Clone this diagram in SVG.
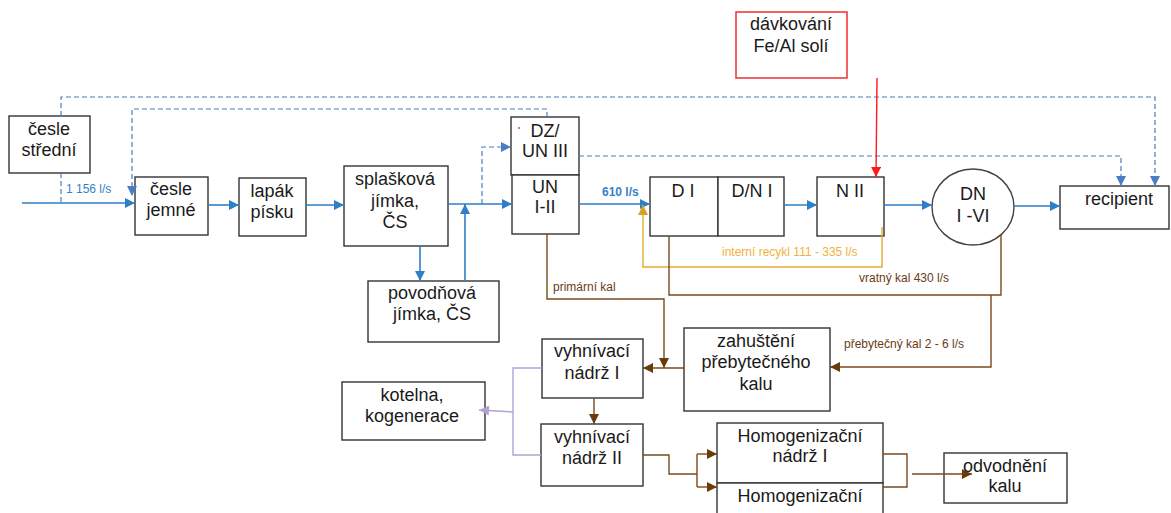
<svg xmlns="http://www.w3.org/2000/svg" width="1171" height="513" viewBox="0 0 1171 513">
<style>
.box{fill:#fff;stroke:#333;stroke-width:1.4}
.t{font-family:"Liberation Sans",Arial,sans-serif;font-size:18px;fill:#1a1a1a;text-anchor:middle}
.s{font-family:"Liberation Sans",Arial,sans-serif;font-size:12px}
.bl{fill:none;stroke:#2e7ec8;stroke-width:1.6}
.bd{fill:none;stroke:#4a7ec4;stroke-width:1.2;stroke-dasharray:5,3}
.br{fill:none;stroke:#7a4a1e;stroke-width:1.4}
.or{fill:none;stroke:#e2ab2c;stroke-width:1.4}
.lv{fill:none;stroke:#b3a3d3;stroke-width:1.4}
.rd{fill:none;stroke:#ff1a1a;stroke-width:1.4}
</style>
<defs>
<marker id="mb" viewBox="0 0 10 10" refX="10" refY="5" markerWidth="12" markerHeight="10" markerUnits="userSpaceOnUse" orient="auto"><path d="M0,0 L10,5 L0,10 z" fill="#2e7ec8"/></marker>
<marker id="md" viewBox="0 0 10 10" refX="10" refY="5" markerWidth="12" markerHeight="10" markerUnits="userSpaceOnUse" orient="auto"><path d="M0,0 L10,5 L0,10 z" fill="#4a7ec4"/></marker>
<marker id="mbr" viewBox="0 0 10 10" refX="10" refY="5" markerWidth="12" markerHeight="10" markerUnits="userSpaceOnUse" orient="auto"><path d="M0,0 L10,5 L0,10 z" fill="#6b3b0c"/></marker>
<marker id="mor" viewBox="0 0 10 10" refX="10" refY="5" markerWidth="12" markerHeight="10" markerUnits="userSpaceOnUse" orient="auto"><path d="M0,0 L10,5 L0,10 z" fill="#d9a020"/></marker>
<marker id="mrd" viewBox="0 0 10 10" refX="10" refY="5" markerWidth="12" markerHeight="10" markerUnits="userSpaceOnUse" orient="auto"><path d="M0,0 L10,5 L0,10 z" fill="#ff1a1a"/></marker>
<marker id="mlv" viewBox="0 0 10 10" refX="10" refY="5" markerWidth="12" markerHeight="10" markerUnits="userSpaceOnUse" orient="auto"><path d="M0,0 L10,5 L0,10 z" fill="#b3a3d3"/></marker>
</defs>
<rect width="1171" height="513" fill="#fff"/>

<g id="cesle-stredni"><rect class="box" x="9" y="116" width="81" height="57"/><text class="t" x="49" y="135">česle</text><text class="t" x="49" y="156">střední</text></g>
<g id="cesle-jemne"><rect class="box" x="135" y="177" width="73" height="58"/><text class="t" x="171" y="195">česle</text><text class="t" x="171" y="216">jemné</text></g>
<g id="lapak"><rect class="box" x="239" y="178" width="67" height="58"/><text class="t" x="272" y="197">lapák</text><text class="t" x="272" y="218">písku</text></g>
<g id="splaskova"><rect class="box" x="344" y="166" width="104" height="80"/><text class="t" x="395" y="185">splašková</text><text class="t" x="395" y="207">jímka,</text><text class="t" x="395" y="228">ČS</text></g>
<g id="povodnova"><rect class="box" x="368" y="281" width="131" height="61"/><text class="t" x="432" y="299">povodňová</text><text class="t" x="432" y="320">jímka,  ČS</text></g>
<g id="dz-un3"><rect class="box" x="511" y="117" width="68" height="58"/><circle cx="519" cy="128" r="1" fill="#ff3030"/><text class="t" x="545" y="137">DZ/</text><text class="t" x="545" y="157">UN  III</text></g>
<g id="un12"><rect class="box" x="512" y="175" width="67" height="59"/><text class="t" x="545" y="193">UN</text><text class="t" x="545" y="213">I-II</text></g>
<g id="d1"><rect class="box" x="650" y="177" width="68" height="59"/><text class="t" x="683" y="197">D I</text></g>
<g id="dn1"><rect class="box" x="718" y="177" width="66" height="59"/><text class="t" x="752" y="197">D/N I</text></g>
<g id="n2"><rect class="box" x="817" y="177" width="67" height="59"/><text class="t" x="850" y="197">N II</text></g>
<g id="dn16"><ellipse cx="973" cy="207" rx="41" ry="38" fill="#fff" stroke="#444" stroke-width="1.4"/><text class="t" x="973" y="200">DN</text><text class="t" x="973" y="222">I -VI</text></g>
<g id="recipient"><rect class="box" x="1060" y="186" width="109" height="43"/><text class="t" x="1119" y="205">recipient</text></g>
<g id="davkovani"><rect x="736" y="12" width="111" height="66" fill="#fff" stroke="#ee2020" stroke-width="1.4"/><text class="t" x="791" y="30">dávkování</text><text class="t" x="791" y="52">Fe/Al solí</text></g>
<g id="zahusteni"><rect class="box" x="684" y="328" width="146" height="83"/><text class="t" x="756" y="347">zahuštění</text><text class="t" x="756" y="368">přebytečného</text><text class="t" x="756" y="390">kalu</text></g>
<g id="vyhnivaci1"><rect class="box" x="542" y="339" width="101" height="59"/><text class="t" x="592" y="357">vyhnívací</text><text class="t" x="592" y="379">nádrž I</text></g>
<g id="vyhnivaci2"><rect class="box" x="541" y="424" width="102" height="62"/><text class="t" x="592" y="443">vyhnívací</text><text class="t" x="592" y="464">nádrž II</text></g>
<g id="kotelna"><rect class="box" x="342" y="382" width="143" height="58"/><text class="t" x="412" y="401">kotelna,</text><text class="t" x="412" y="422">kogenerace</text></g>
<g id="homog1"><rect class="box" x="717" y="423" width="166" height="60"/><text class="t" x="800" y="442">Homogenizační</text><text class="t" x="800" y="462">nádrž I</text></g>
<g id="homog2"><rect class="box" x="717" y="483" width="166" height="40"/><text class="t" x="800" y="502">Homogenizační</text></g>
<g id="odvodneni"><rect class="box" x="944" y="453" width="123" height="50"/><text class="t" x="1005" y="472">odvodnění</text><text class="t" x="1005" y="492">kalu</text></g>

<g id="connectors">
<path class="bl" d="M22,203 H135" marker-end="url(#mb)"/>
<path class="bl" d="M208,205 H239" marker-end="url(#mb)"/>
<path class="bl" d="M306,205 H344" marker-end="url(#mb)"/>
<path class="bl" d="M448,204 H512" marker-end="url(#mb)"/>
<path class="bl" d="M420,246 V281" marker-end="url(#mb)"/>
<path class="bl" d="M465,281 V204" marker-end="url(#mb)"/>
<path class="bl" d="M579,204 H650" marker-end="url(#mb)"/>
<path class="bl" d="M784,205 H817" marker-end="url(#mb)"/>
<path class="bl" d="M884,205 H932" marker-end="url(#mb)"/>
<path class="bl" d="M1014,206 H1060" marker-end="url(#mb)"/>

<path class="bd" d="M61,173 V203"/>
<path class="bd" d="M61,116 V97 H1155 V186" marker-end="url(#md)"/>
<path class="bd" d="M547,117 V109 H132 V196" marker-end="url(#md)"/>
<path class="bd" d="M482,204 V147 H511" marker-end="url(#md)"/>
<path class="bd" d="M579,156 H1121 V186" marker-end="url(#md)"/>

<path class="rd" d="M877,78 L876,177" marker-end="url(#mrd)"/>

<path class="or" d="M882,227 V267 H643 V205" marker-end="url(#mor)"/>

<path class="br" d="M669,236 V295 H1001 V235"/>
<path class="br" d="M991,295 V367 H830" marker-end="url(#mbr)"/>
<path class="br" d="M547,234 V299 H664 V368" marker-end="url(#mbr)"/>
<path class="br" d="M684,368 H643" marker-end="url(#mbr)"/>
<path class="br" d="M594,398 V424" marker-end="url(#mbr)"/>
<path class="br" d="M643,455 H669 V474 H697 M697,454 V487"/>
<path class="br" d="M697,454 H717" marker-end="url(#mbr)"/>
<path class="br" d="M697,487 H717" marker-end="url(#mbr)"/>
<path class="br" d="M883,454 H907 V487 H883"/>
<path class="br" d="M912,474 H972" marker-end="url(#mbr)"/>

<path class="lv" d="M542,368 H513 V455 H541"/>
<path class="lv" d="M513,412 L479,410" marker-end="url(#mlv)"/>

<text class="s" x="66" y="193" fill="#3a80c8">1 156 l/s</text>
<text class="s" x="602" y="196" fill="#3a80c8" font-weight="bold">610 l/s</text>
<text class="s" x="722" y="256" fill="#f2b13c">interní recykl 111 - 335 l/s</text>
<text class="s" x="859" y="282" fill="#6b3b14">vratný kal 430 l/s</text>
<text class="s" x="553" y="291" fill="#6b3b14">primární kal</text>
<text class="s" x="844" y="348" fill="#6b3b14">přebytečný kal 2 - 6 l/s</text>
</g>
</svg>
